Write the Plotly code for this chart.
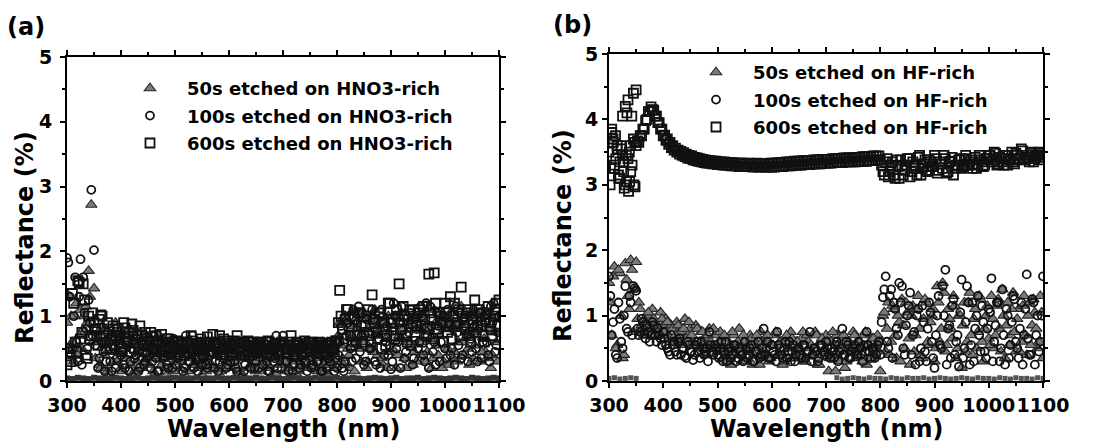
import numpy as np
import plotly.graph_objects as go

# ---------------- data ----------------
# main readings: 300..1100 nm, 5 nm step
a_50s = [0.9, 1.3, 0.6, 1.0, 0.4, 1.1, 0.8, 1.15, 1.7, 2.72, 1.43,
         0.6, 0.25, 0.85, 0.4, 0.15, 0.7, 0.3, 0.9, 0.45, 0.2,
         0.65, 0.35, 0.8, 0.1, 0.55, 0.3, 0.75, 0.2, 0.5, 0.35,
         0.6, 0.15, 0.45, 0.7, 0.25, 0.55, 0.1, 0.4, 0.6, 0.3,
         0.5, 0.2, 0.45, 0.6, 0.15, 0.35, 0.55, 0.25, 0.5, 0.1,
         0.45, 0.3, 0.55, 0.2, 0.4, 0.6, 0.15, 0.5, 0.3, 0.45,
         0.2, 0.55, 0.35, 0.5, 0.1, 0.45, 0.6, 0.25, 0.4, 0.15,
         0.5, 0.3, 0.55, 0.2, 0.45, 0.1, 0.4, 0.55, 0.25, 0.35,
         0.15, 0.5, 0.3, 0.45, 0.1, 0.55, 0.25, 0.4, 0.2, 0.5,
         0.3, 0.45, 0.15, 0.5, 0.25, 0.4, 0.1, 0.3, 0.2, 0.6,
         0.9, 0.35, 1.0, 0.5, 0.2, 0.85, 0.6, 1.05, 0.3, 0.75,
         0.2, 0.95, 0.5, 1.1, 0.4, 0.8, 0.25, 0.65, 1.0, 0.45,
         0.85, 0.2, 0.7, 1.05, 0.35, 0.9, 0.55, 0.25, 1.0, 0.6,
         0.4, 0.95, 0.3, 0.8, 0.2, 1.1, 0.55, 0.7, 0.2, 0.9,
         0.5, 1.05, 0.35, 0.85, 0.6, 1.15, 0.4, 0.75, 0.25, 1.0,
         0.55, 0.9, 0.3, 1.1, 0.45, 0.8, 0.2, 0.95, 0.6, 1.0]

a_100s = [1.9, 1.3, 0.5, 1.6, 0.3, 1.88, 1.6, 0.8, 1.25, 2.95, 2.02,
          0.8, 0.35, 0.6, 0.15, 0.75, 0.3, 0.55, 0.2, 0.7, 0.4,
          0.25, 0.6, 0.15, 0.5, 0.35, 0.65, 0.2, 0.45, 0.3, 0.55,
          0.2, 0.5, 0.35, 0.15, 0.45, 0.6, 0.25, 0.4, 0.2, 0.55,
          0.35, 0.5, 0.15, 0.7, 0.3, 0.45, 0.2, 0.55, 0.35, 0.25,
          0.5, 0.2, 0.4, 0.6, 0.3, 0.15, 0.5, 0.35, 0.2, 0.45,
          0.55, 0.3, 0.15, 0.45, 0.6, 0.25, 0.4, 0.2, 0.5, 0.3,
          0.2, 0.45, 0.6, 0.3, 0.15, 0.5, 0.35, 0.2, 0.45, 0.7,
          0.3, 0.15, 0.45, 0.25, 0.55, 0.2, 0.4, 0.3, 0.15, 0.45,
          0.25, 0.5, 0.3, 0.15, 0.45, 0.2, 0.35, 0.5, 0.15, 0.2,
          0.6, 0.2, 0.3, 0.9, 0.5, 1.1, 0.35, 1.15, 0.7, 0.25,
          0.95, 0.5, 1.1, 0.3, 0.8, 0.2, 1.0, 0.6, 0.4, 0.18,
          1.2, 0.5, 0.9, 1.15, 0.35, 0.7, 1.05, 0.25, 0.95, 0.5,
          1.15, 0.4, 1.2, 0.2, 0.85, 0.6, 1.05, 0.3, 0.9, 0.5,
          1.1, 0.4, 0.8, 1.15, 0.55, 0.35, 0.95, 0.7, 1.0, 0.45,
          0.85, 0.3, 1.05, 0.6, 0.9, 0.4, 1.15, 1.2, 0.55, 1.0]

a_600s = [0.25, 0.45, 1.35, 0.6, 1.55, 0.65, 1.5, 0.4, 1.0, 0.7, 0.9,
          0.7, 0.95, 1.0, 0.6, 0.9, 0.5, 0.85, 0.7, 0.8, 0.45,
          0.9, 0.6, 0.75, 0.88, 0.5, 0.7, 0.85, 0.55, 0.75, 0.4,
          0.75, 0.5, 0.7, 0.6, 0.72, 0.45, 0.65, 0.55, 0.6, 0.5,
          0.62, 0.4, 0.55, 0.6, 0.45, 0.7, 0.5, 0.58, 0.35, 0.6,
          0.5, 0.68, 0.45, 0.72, 0.55, 0.6, 0.4, 0.65, 0.5, 0.58,
          0.45, 0.62, 0.7, 0.5, 0.6, 0.4, 0.62, 0.55, 0.6, 0.45,
          0.6, 0.5, 0.55, 0.4, 0.6, 0.5, 0.58, 0.45, 0.55, 0.6,
          0.5, 0.55, 0.7, 0.45, 0.6, 0.55, 0.4, 0.62, 0.5, 0.58,
          0.6, 0.45, 0.55, 0.58, 0.5, 0.4, 0.55, 0.6, 0.45, 0.62,
          1.4, 0.8, 0.95, 1.1, 0.7, 1.0, 0.6, 1.05, 0.85, 0.75,
          1.0, 0.7, 1.33, 0.9, 0.65, 1.05, 0.8, 0.55, 1.2, 0.9,
          0.7, 1.1, 1.5, 0.8, 1.0, 0.6, 1.1, 0.9, 0.75, 1.05,
          0.85, 1.15, 0.7, 1.65, 0.95, 1.67, 0.8, 1.05, 0.9, 1.2,
          0.75, 1.3, 1.0, 0.85, 1.1, 1.45, 0.9, 1.05, 0.7, 1.0,
          1.25, 0.85, 1.05, 0.7, 0.95, 1.15, 0.8, 1.0, 1.2, 1.25]

# in-between readings: 302.5..1097.5 nm, 5 nm step
a_50s_mid = [0.5, 1.0, 0.3, 1.2, 0.7, 0.5, 1.0, 0.9, 1.3, 0.6,
             0.35, 0.75, 0.2, 0.55, 0.8, 0.1, 0.45, 0.65, 0.3, 0.75,
             0.15, 0.5, 0.7, 0.25, 0.6, 0.15, 0.45, 0.65, 0.3, 0.7,
             0.25, 0.5, 0.1, 0.65, 0.35, 0.5, 0.2, 0.6, 0.4, 0.15,
             0.55, 0.3, 0.6, 0.1, 0.4, 0.55, 0.25, 0.45, 0.2, 0.6,
             0.35, 0.15, 0.5, 0.25, 0.6, 0.4, 0.1, 0.45, 0.55, 0.2,
             0.4, 0.6, 0.3, 0.15, 0.5, 0.35, 0.55, 0.2, 0.45, 0.3,
             0.6, 0.15, 0.4, 0.5, 0.25, 0.55, 0.35, 0.1, 0.45, 0.6,
             0.3, 0.45, 0.2, 0.55, 0.35, 0.15, 0.5, 0.4, 0.25, 0.55,
             0.45, 0.2, 0.55, 0.35, 0.6, 0.15, 0.5, 0.25, 0.45, 0.3,
             0.7, 0.55, 0.25, 0.95, 0.4, 0.7, 0.15, 0.8, 0.5, 1.0,
             0.6, 0.3, 0.85, 0.45, 0.7, 0.95, 0.35, 0.9, 0.2, 0.75,
             0.5, 1.0, 0.4, 0.65, 0.8, 0.2, 0.6, 0.95, 0.45, 0.3,
             0.8, 0.6, 1.05, 0.45, 0.65, 0.35, 0.9, 0.4, 1.0, 0.3,
             0.8, 0.25, 0.95, 0.45, 0.3, 0.9, 0.6, 1.05, 0.5, 0.7,
             0.35, 0.75, 1.0, 0.45, 0.65, 0.35, 1.05, 0.4, 0.75, 0.3]

a_100s_mid = [1.83, 0.4, 1.0, 0.6, 1.3, 0.25, 1.05, 0.5, 0.9, 0.7,
              0.55, 0.2, 0.7, 0.45, 0.3, 0.6, 0.15, 0.5, 0.35, 0.65,
              0.45, 0.2, 0.55, 0.3, 0.7, 0.4, 0.15, 0.6, 0.25, 0.45,
              0.6, 0.3, 0.45, 0.15, 0.55, 0.35, 0.5, 0.2, 0.4, 0.65,
              0.25, 0.4, 0.6, 0.2, 0.5, 0.3, 0.7, 0.4, 0.15, 0.5,
              0.4, 0.25, 0.6, 0.45, 0.2, 0.55, 0.3, 0.4, 0.6, 0.25,
              0.3, 0.5, 0.2, 0.6, 0.4, 0.15, 0.55, 0.35, 0.45, 0.2,
              0.45, 0.6, 0.25, 0.4, 0.15, 0.55, 0.3, 0.7, 0.4, 0.2,
              0.5, 0.3, 0.55, 0.15, 0.4, 0.6, 0.25, 0.45, 0.3, 0.55,
              0.2, 0.45, 0.3, 0.55, 0.15, 0.4, 0.6, 0.3, 0.5, 0.35,
              0.4, 0.85, 0.15, 0.7, 1.0, 0.3, 0.6, 0.9, 0.45, 1.05,
              0.3, 0.75, 0.5, 0.95, 0.25, 0.65, 1.1, 0.4, 0.85, 0.55,
              0.3, 1.0, 0.6, 0.2, 0.9, 0.45, 0.75, 1.1, 0.35, 0.8,
              0.6, 1.0, 0.3, 0.7, 1.15, 0.45, 0.25, 0.85, 0.6, 1.0,
              0.35, 0.9, 0.5, 0.25, 0.75, 1.05, 0.4, 0.85, 0.3, 0.65,
              1.1, 0.5, 0.8, 0.35, 1.0, 0.6, 0.3, 0.9, 0.45, 0.75]

a_600s_mid = [0.5, 0.3, 1.2, 0.45, 1.52, 0.75, 1.25, 0.35, 0.65, 1.05,
              0.8, 0.55, 1.02, 0.7, 0.5, 0.8, 0.65, 0.55, 0.75, 0.6,
              0.5, 0.82, 0.65, 0.45, 0.78, 0.6, 0.5, 0.7, 0.45, 0.65,
              0.55, 0.68, 0.45, 0.62, 0.5, 0.6, 0.4, 0.65, 0.5, 0.55,
              0.45, 0.6, 0.5, 0.4, 0.6, 0.5, 0.62, 0.45, 0.55, 0.65,
              0.4, 0.55, 0.6, 0.45, 0.58, 0.5, 0.7, 0.45, 0.62, 0.5,
              0.55, 0.4, 0.6, 0.5, 0.58, 0.45, 0.55, 0.6, 0.4, 0.55,
              0.5, 0.6, 0.45, 0.55, 0.62, 0.4, 0.5, 0.58, 0.45, 0.6,
              0.55, 0.45, 0.6, 0.5, 0.4, 0.58, 0.5, 0.55, 0.45, 0.6,
              0.5, 0.55, 0.42, 0.6, 0.5, 0.55, 0.45, 0.58, 0.5, 0.62,
              0.9, 1.0, 0.65, 1.1, 0.85, 0.55, 0.95, 0.7, 1.05, 0.6,
              0.85, 1.1, 0.6, 0.95, 0.75, 1.05, 0.5, 0.9, 0.7, 1.2,
              0.95, 0.65, 1.0, 0.8, 1.15, 0.7, 0.95, 0.55, 1.0, 0.85,
              1.1, 0.6, 0.95, 0.8, 1.05, 0.65, 1.2, 0.75, 1.0, 0.6,
              1.05, 0.85, 0.65, 1.2, 0.9, 0.7, 1.0, 0.8, 1.1, 0.6,
              0.95, 0.75, 1.1, 0.85, 0.6, 1.05, 0.9, 0.7, 1.1, 0.85]

# near-zero strip in (a), 10 nm step 300..1100
a_base = [0.04, 0.03, 0.05, 0.04, 0.03, 0.05, 0.04, 0.04, 0.03, 0.05,
          0.04, 0.03, 0.04, 0.05, 0.03, 0.04, 0.05, 0.04, 0.03, 0.04,
          0.05, 0.04, 0.03, 0.04, 0.05, 0.03, 0.04, 0.04, 0.05, 0.03,
          0.04, 0.05, 0.04, 0.03, 0.04, 0.05, 0.04, 0.03, 0.05, 0.04,
          0.03, 0.04, 0.05, 0.04, 0.03, 0.04, 0.05, 0.03, 0.04, 0.04,
          0.05, 0.03, 0.04, 0.05, 0.04, 0.03, 0.04, 0.05, 0.04, 0.03,
          0.04, 0.05, 0.03, 0.04, 0.04, 0.05, 0.03, 0.04, 0.05, 0.04,
          0.03, 0.04, 0.05, 0.04, 0.03, 0.05, 0.04, 0.03, 0.04, 0.05,
          0.04]

b_50s = [1.5, 0.7, 1.75, 0.55, 1.65, 0.35, 1.8, 1.3, 1.85, 0.75, 1.82,
         1.2, 0.85, 0.7, 1.0, 0.8, 1.1, 0.9, 0.75, 1.05, 0.85,
         0.95, 0.7, 0.85, 0.6, 0.9, 0.75, 0.55, 0.95, 0.7, 0.8,
         0.6, 0.85, 0.5, 0.75, 0.65, 0.4, 0.8, 0.55, 0.7, 0.45,
         0.75, 0.35, 0.65, 0.5, 0.25, 0.7, 0.4, 0.8, 0.3, 0.6,
         0.45, 0.7, 0.25, 0.6, 0.5, 0.75, 0.35, 0.65, 0.3, 0.55,
         0.7, 0.4, 0.6, 0.25, 0.65, 0.5, 0.75, 0.35, 0.6, 0.45,
         0.65, 0.3, 0.7, 0.5, 0.4, 0.75, 0.25, 0.6, 0.45, 0.7,
         0.15, 0.6, 0.4, 0.7, 0.3, 0.65, 0.2, 0.55, 0.45, 0.75,
         0.35, 0.6, 0.5, 0.7, 0.25, 0.55, 0.65, 0.4, 0.7, 0.15,
         1.0, 0.45, 1.2, 0.6, 1.1, 0.35, 0.9, 1.25, 0.5, 1.05,
         0.25, 1.15, 0.7, 1.3, 0.4, 0.95, 1.2, 0.55, 1.0, 0.3,
         1.45, 0.6, 1.5, 0.45, 1.1, 0.8, 1.3, 0.35, 1.0, 0.2,
         1.2, 0.6, 1.35, 0.4, 1.1, 0.75, 1.25, 0.3, 1.0, 0.65,
         1.3, 0.5, 1.15, 0.8, 1.4, 0.35, 1.2, 0.7, 1.35, 0.45,
         1.1, 0.6, 1.3, 0.4, 1.2, 0.85, 1.05, 0.5, 1.3, 0.35]

b_100s = [1.6, 0.7, 1.1, 0.35, 0.95, 0.5, 1.45, 0.75, 1.2, 1.45, 1.38,
          0.7, 0.95, 0.72, 0.85, 0.6, 0.9, 0.7, 0.8, 0.65, 0.75,
          0.55, 0.45, 0.7, 0.6, 0.4, 0.65, 0.5, 0.38, 0.6, 0.45,
          0.32, 0.55, 0.45, 0.6, 0.4, 0.5, 0.75, 0.45, 0.55, 0.4,
          0.5, 0.3, 0.6, 0.45, 0.35, 0.55, 0.3, 0.5, 0.4, 0.6,
          0.35, 0.5, 0.3, 0.45, 0.6, 0.4, 0.8, 0.5, 0.35, 0.55,
          0.4, 0.75, 0.5, 0.35, 0.6, 0.45, 0.3, 0.55, 0.4, 0.5,
          0.35, 0.55, 0.45, 0.75, 0.4, 0.5, 0.3, 0.55, 0.45, 0.6,
          0.4, 0.5, 0.35, 0.6, 0.45, 0.8, 0.4, 0.55, 0.35, 0.5,
          0.45, 0.6, 0.4, 0.55, 0.75, 0.45, 0.5, 0.35, 0.55, 0.4,
          1.28, 1.6, 0.5, 1.4, 1.2, 0.8, 1.5, 1.45, 0.4, 1.0,
          1.35, 0.7, 0.25, 1.1, 0.5, 0.9, 0.3, 1.2, 0.6, 0.2,
          1.0, 0.55, 1.45, 1.7, 0.8, 0.35, 1.25, 0.6, 0.22, 1.55,
          0.5, 1.45, 0.25, 1.2, 0.8, 1.3, 0.45, 0.9, 0.35, 1.1,
          1.57, 0.6, 1.2, 0.3, 1.4, 0.25, 1.0, 0.55, 1.3, 0.6,
          0.35, 1.2, 0.7, 1.63, 0.4, 1.25, 0.25, 1.0, 0.6, 1.6]

b_600s = [3.5, 3.8, 3.3, 3.6, 3.1, 3.45, 3.0, 3.4, 3.2, 3.7, 3.6,
          3.65, 3.75, 3.85, 4.0, 4.12, 4.15, 4.05, 3.95, 3.85, 3.75,
          3.68, 3.62, 3.57, 3.53, 3.5, 3.47, 3.45, 3.43, 3.41, 3.4,
          3.38, 3.37, 3.36, 3.35, 3.34, 3.33, 3.33, 3.32, 3.32, 3.31,
          3.31, 3.3, 3.3, 3.3, 3.29, 3.29, 3.29, 3.28, 3.28, 3.28,
          3.28, 3.28, 3.27, 3.28, 3.27, 3.27, 3.28, 3.27, 3.27, 3.27,
          3.27, 3.28, 3.28, 3.28, 3.29, 3.29, 3.29, 3.3, 3.3, 3.3,
          3.3, 3.31, 3.31, 3.31, 3.32, 3.32, 3.32, 3.32, 3.33, 3.33,
          3.33, 3.33, 3.34, 3.34, 3.34, 3.34, 3.35, 3.35, 3.35, 3.35,
          3.35, 3.36, 3.36, 3.36, 3.36, 3.37, 3.37, 3.37, 3.38, 3.38,
          3.2, 3.35, 3.12, 3.3, 3.15, 3.38, 3.1, 3.3, 3.22, 3.4,
          3.12, 3.35, 3.25, 3.42, 3.15, 3.32, 3.2, 3.38, 3.28, 3.45,
          3.18, 3.35, 3.25, 3.4, 3.2, 3.36, 3.15, 3.3, 3.38, 3.25,
          3.4, 3.3, 3.35, 3.25, 3.42, 3.3, 3.38, 3.28, 3.4, 3.45,
          3.35, 3.5, 3.3, 3.42, 3.35, 3.45, 3.3, 3.4, 3.35, 3.48,
          3.38, 3.55, 3.4, 3.45, 3.35, 3.5, 3.4, 3.45, 3.38, 3.48]

b_50s_mid = [1.2, 1.6, 0.5, 1.7, 1.0, 0.4, 1.55, 1.1, 1.7, 1.4,
             0.95, 1.1, 0.8, 0.9, 1.05, 0.7, 0.95, 0.85, 0.7, 0.95,
             0.75, 0.9, 0.65, 0.8, 0.7, 0.85, 0.6, 0.8, 0.65, 0.9,
             0.7, 0.55, 0.8, 0.6, 0.75, 0.5, 0.7, 0.6, 0.8, 0.55,
             0.6, 0.45, 0.7, 0.3, 0.55, 0.75, 0.4, 0.6, 0.5, 0.7,
             0.3, 0.55, 0.65, 0.4, 0.7, 0.25, 0.6, 0.45, 0.7, 0.35,
             0.55, 0.75, 0.4, 0.6, 0.3, 0.7, 0.5, 0.65, 0.35, 0.6,
             0.45, 0.75, 0.3, 0.6, 0.55, 0.4, 0.7, 0.25, 0.65, 0.5,
             0.6, 0.35, 0.75, 0.15, 0.55, 0.45, 0.7, 0.3, 0.6, 0.5,
             0.7, 0.4, 0.6, 0.3, 0.75, 0.55, 0.35, 0.65, 0.5, 0.6,
             0.6, 1.05, 0.8, 0.4, 1.15, 0.7, 1.0, 0.3, 0.85, 1.2,
             0.65, 1.0, 0.45, 1.1, 0.8, 0.35, 1.25, 0.6, 0.9, 1.1,
             0.5, 1.2, 0.8, 1.35, 0.55, 0.95, 0.65, 1.15, 0.5, 1.0,
             0.85, 0.45, 1.2, 0.7, 0.95, 0.5, 1.3, 0.6, 0.8, 1.15,
             0.55, 0.95, 0.7, 1.25, 0.45, 1.0, 0.85, 0.55, 1.1, 0.75,
             0.95, 0.45, 1.15, 0.7, 1.0, 0.55, 1.25, 0.8, 0.6, 1.05]

b_100s_mid = [1.3, 0.9, 0.4, 1.2, 0.6, 1.0, 0.8, 1.3, 0.7, 1.42,
              0.8, 0.75, 0.9, 0.65, 0.75, 0.7, 0.85, 0.6, 0.7, 0.55,
              0.65, 0.5, 0.4, 0.55, 0.45, 0.6, 0.4, 0.5, 0.35, 0.55,
              0.45, 0.4, 0.6, 0.35, 0.5, 0.45, 0.3, 0.55, 0.4, 0.5,
              0.35, 0.6, 0.45, 0.3, 0.5, 0.4, 0.55, 0.35, 0.45, 0.3,
              0.5, 0.4, 0.55, 0.3, 0.45, 0.35, 0.5, 0.4, 0.6, 0.35,
              0.45, 0.3, 0.55, 0.4, 0.5, 0.35, 0.6, 0.45, 0.3, 0.5,
              0.4, 0.55, 0.35, 0.45, 0.3, 0.5, 0.45, 0.35, 0.55, 0.4,
              0.5, 0.35, 0.45, 0.55, 0.3, 0.5, 0.4, 0.6, 0.35, 0.45,
              0.55, 0.4, 0.5, 0.3, 0.45, 0.55, 0.35, 0.5, 0.4, 0.6,
              0.9, 1.4, 0.6, 1.3, 0.35, 1.1, 0.7, 1.2, 0.5, 0.85,
              1.15, 0.4, 0.75, 1.0, 0.3, 1.15, 0.45, 0.8, 1.05, 0.35,
              0.7, 1.3, 0.5, 1.0, 0.25, 0.85, 1.15, 0.4, 0.7, 1.05,
              0.35, 0.9, 1.2, 0.55, 0.3, 1.0, 0.7, 1.15, 0.45, 0.8,
              1.05, 0.3, 0.85, 1.2, 0.5, 0.7, 1.1, 0.35, 0.9, 1.25,
              0.5, 0.8, 0.25, 1.1, 0.65, 0.4, 1.2, 0.7, 0.45, 1.0]

b_600s_mid = [3.25, 3.7, 3.4, 3.15, 3.55, 3.35, 3.05, 3.5, 3.3, 3.65,
              3.67, 3.75, 3.85, 3.98, 4.12, 4.19, 4.14, 4.05, 3.95, 3.85,
              3.76, 3.7, 3.65, 3.6, 3.56, 3.53, 3.51, 3.49, 3.47, 3.45,
              3.44, 3.42, 3.41, 3.4, 3.39, 3.38, 3.37, 3.37, 3.36, 3.36,
              3.35, 3.35, 3.35, 3.34, 3.34, 3.34, 3.33, 3.33, 3.33, 3.33,
              3.32, 3.33, 3.32, 3.32, 3.33, 3.32, 3.32, 3.32, 3.32, 3.33,
              3.33, 3.33, 3.34, 3.34, 3.34, 3.35, 3.35, 3.35, 3.36, 3.36,
              3.36, 3.37, 3.37, 3.37, 3.37, 3.38, 3.38, 3.38, 3.39, 3.39,
              3.39, 3.39, 3.4, 3.4, 3.4, 3.4, 3.41, 3.41, 3.41, 3.41,
              3.42, 3.42, 3.42, 3.43, 3.43, 3.43, 3.43, 3.44, 3.44, 3.44,
              3.3, 3.15, 3.4, 3.2, 3.35, 3.1, 3.28, 3.38, 3.15, 3.3,
              3.4, 3.2, 3.3, 3.15, 3.45, 3.25, 3.38, 3.22, 3.35, 3.28,
              3.4, 3.22, 3.32, 3.45, 3.18, 3.35, 3.42, 3.25, 3.3, 3.4,
              3.28, 3.45, 3.3, 3.38, 3.32, 3.25, 3.45, 3.35, 3.3, 3.4,
              3.45, 3.38, 3.48, 3.32, 3.4, 3.3, 3.45, 3.38, 3.5, 3.32,
              3.45, 3.4, 3.52, 3.38, 3.42, 3.48, 3.35, 3.45, 3.5, 3.42]

# extra scattered squares of the 600s HF-rich curve below 350 nm
b_600s_scatter_x = [302, 305, 308, 310, 312, 315, 318, 320, 322, 325, 327, 328,
                    330, 332, 333, 335, 336, 338, 340, 342, 345, 346, 348, 350]
b_600s_scatter_y = [3.0, 3.85, 3.65, 3.25, 3.75, 3.55, 3.1, 3.35, 3.6, 4.05, 3.2, 2.95,
                    4.2, 3.45, 4.1, 4.3, 2.9, 3.05, 3.6, 4.05, 4.4, 3.0, 2.97, 4.45]

# near-zero strip in (b): 300..350 and 720..1100 nm, 10 nm step
b_base_x = [300, 310, 320, 330, 340, 350] + list(range(720, 1101, 10))
b_base = [0.04, 0.05, 0.03, 0.04, 0.05, 0.04,
          0.05, 0.03, 0.04, 0.05, 0.04, 0.03, 0.05, 0.04, 0.04, 0.03,
          0.05, 0.04, 0.03, 0.05, 0.04, 0.04, 0.05, 0.03, 0.04, 0.05,
          0.04, 0.03, 0.04, 0.05, 0.04, 0.03, 0.05, 0.04, 0.04, 0.03,
          0.05, 0.04, 0.03, 0.05, 0.04, 0.04, 0.03, 0.05, 0.04]

labels_a = ["50s etched on HNO3-rich", "100s etched on HNO3-rich", "600s etched on HNO3-rich"]
labels_b = ["50s etched on HF-rich", "100s etched on HF-rich", "600s etched on HF-rich"]

x_ticks = [300, 400, 500, 600, 700, 800, 900, 1000, 1100]
y_ticks = [0, 1, 2, 3, 4, 5]


def grid(vals, start=300.0, step=5.0):
    return start + step * np.arange(len(vals))


FONT = "DejaVu Sans"
tri = dict(symbol="triangle-up", size=10, color="#7a7a7a", line=dict(color="#262626", width=1.1))
cir = dict(symbol="circle-open", size=8, color="#111111", line=dict(width=1.8))
sqr = dict(symbol="square-open", size=9, color="#111111", line=dict(width=1.8))

fig = go.Figure()


def add_series(main, mid, marker, name, leg, grp, xa, ya):
    fig.add_trace(go.Scatter(x=grid(main), y=main, mode="markers", marker=marker, name=name,
                             legend=leg, legendgroup=grp, xaxis=xa, yaxis=ya))
    fig.add_trace(go.Scatter(x=grid(mid, 302.5), y=mid, mode="markers", marker=marker, name=name,
                             legend=leg, legendgroup=grp, showlegend=False, xaxis=xa, yaxis=ya))


# ----- panel (a)
add_series(a_50s, a_50s_mid, tri, labels_a[0], "legend", "a1", "x", "y")
add_series(a_100s, a_100s_mid, cir, labels_a[1], "legend", "a2", "x", "y")
add_series(a_600s, a_600s_mid, sqr, labels_a[2], "legend", "a3", "x", "y")
fig.add_trace(go.Scatter(x=grid(a_base, 300, 10), y=a_base, mode="markers",
                         marker=dict(symbol="square", size=6, color="#333333"),
                         showlegend=False, xaxis="x", yaxis="y"))

# ----- panel (b)
add_series(b_50s, b_50s_mid, tri, labels_b[0], "legend2", "b1", "x2", "y2")
add_series(b_100s, b_100s_mid, cir, labels_b[1], "legend2", "b2", "x2", "y2")
add_series(b_600s, b_600s_mid, sqr, labels_b[2], "legend2", "b3", "x2", "y2")
fig.add_trace(go.Scatter(x=b_600s_scatter_x, y=b_600s_scatter_y, mode="markers", marker=sqr,
                         showlegend=False, legendgroup="b3", legend="legend2", xaxis="x2", yaxis="y2"))
fig.add_trace(go.Scatter(x=b_base_x, y=b_base, mode="markers",
                         marker=dict(symbol="square", size=5, color="#555555"),
                         showlegend=False, xaxis="x2", yaxis="y2"))

W, H = 1098, 443


def px_x(p):
    return p / W


def px_y(p):
    return 1 - p / H


axis_common = dict(showline=True, linecolor="black", linewidth=2, mirror="ticks",
                   ticks="outside", ticklen=5, tickwidth=2, tickcolor="black",
                   showgrid=False, zeroline=False,
                   tickfont=dict(family=FONT, size=19, color="black", weight="bold"))

xa = dict(axis_common, range=[300, 1100], tickmode="array", tickvals=x_ticks,
          ticktext=[str(v) for v in x_ticks], tickangle=0, ticklabelstandoff=1,
          minor=dict(dtick=50, ticklen=3, tickwidth=1.5, tickcolor="black", ticks="outside"))
ya = dict(axis_common, range=[0, 5], tickmode="array", tickvals=y_ticks,
          ticktext=[str(v) for v in y_ticks],
          minor=dict(dtick=0.5, ticklen=3, tickwidth=1.5, tickcolor="black", ticks="outside"))

fig.update_layout(
    width=W, height=H,
    margin=dict(l=0, r=0, t=0, b=0, autoexpand=False),
    paper_bgcolor="white", plot_bgcolor="white",
    xaxis=dict(xa, domain=[px_x(67), px_x(499)], anchor="y"),
    yaxis=dict(ya, domain=[px_y(381), px_y(57)], anchor="x", ticklabelstandoff=4),
    xaxis2=dict(xa, domain=[px_x(609), px_x(1043)], anchor="y2"),
    yaxis2=dict(ya, domain=[px_y(381), px_y(54)], anchor="x2", ticklabelstandoff=0),
    legend=dict(x=px_x(113), y=px_y(70), xanchor="left", yanchor="top",
                bgcolor="rgba(0,0,0,0)", itemwidth=64, traceorder="grouped", tracegroupgap=1,
                font=dict(family=FONT, size=18, color="black", weight="bold")),
    legend2=dict(x=px_x(679), y=px_y(54), xanchor="left", yanchor="top",
                 bgcolor="rgba(0,0,0,0)", itemwidth=64, traceorder="grouped", tracegroupgap=1,
                 font=dict(family=FONT, size=18, color="black", weight="bold")),
    showlegend=True,
)

title_font = dict(family=FONT, size=24, color="black", weight="bold")
ann = [
    dict(text="(a)", x=px_x(5), y=px_y(27), xanchor="left", yanchor="middle",
         font=dict(family=FONT, size=24, color="black", weight="bold")),
    dict(text="(b)", x=px_x(551), y=px_y(25), xanchor="left", yanchor="middle",
         font=dict(family=FONT, size=24, color="black", weight="bold")),
    dict(text="Reflectance (%)", textangle=-90, x=px_x(25), y=px_y(238),
         xanchor="center", yanchor="middle", font=title_font),
    dict(text="Reflectance (%)", textangle=-90, x=px_x(563), y=px_y(236),
         xanchor="center", yanchor="middle", font=title_font),
    dict(text="Wavelength (nm)", x=px_x(283), y=px_y(429), xanchor="center", yanchor="middle",
         font=title_font),
    dict(text="Wavelength (nm)", x=px_x(826), y=px_y(429), xanchor="center", yanchor="middle",
         font=title_font),
]
for a in ann:
    a.update(xref="paper", yref="paper", showarrow=False)
fig.update_layout(annotations=ann)

# remove the default 8px page margin so the figure sits at the window's top-left corner
fig.write_html("out.html", config={"displayModeBar": False},
               post_script="document.body.style.margin='0px';document.body.style.overflow='hidden';")
